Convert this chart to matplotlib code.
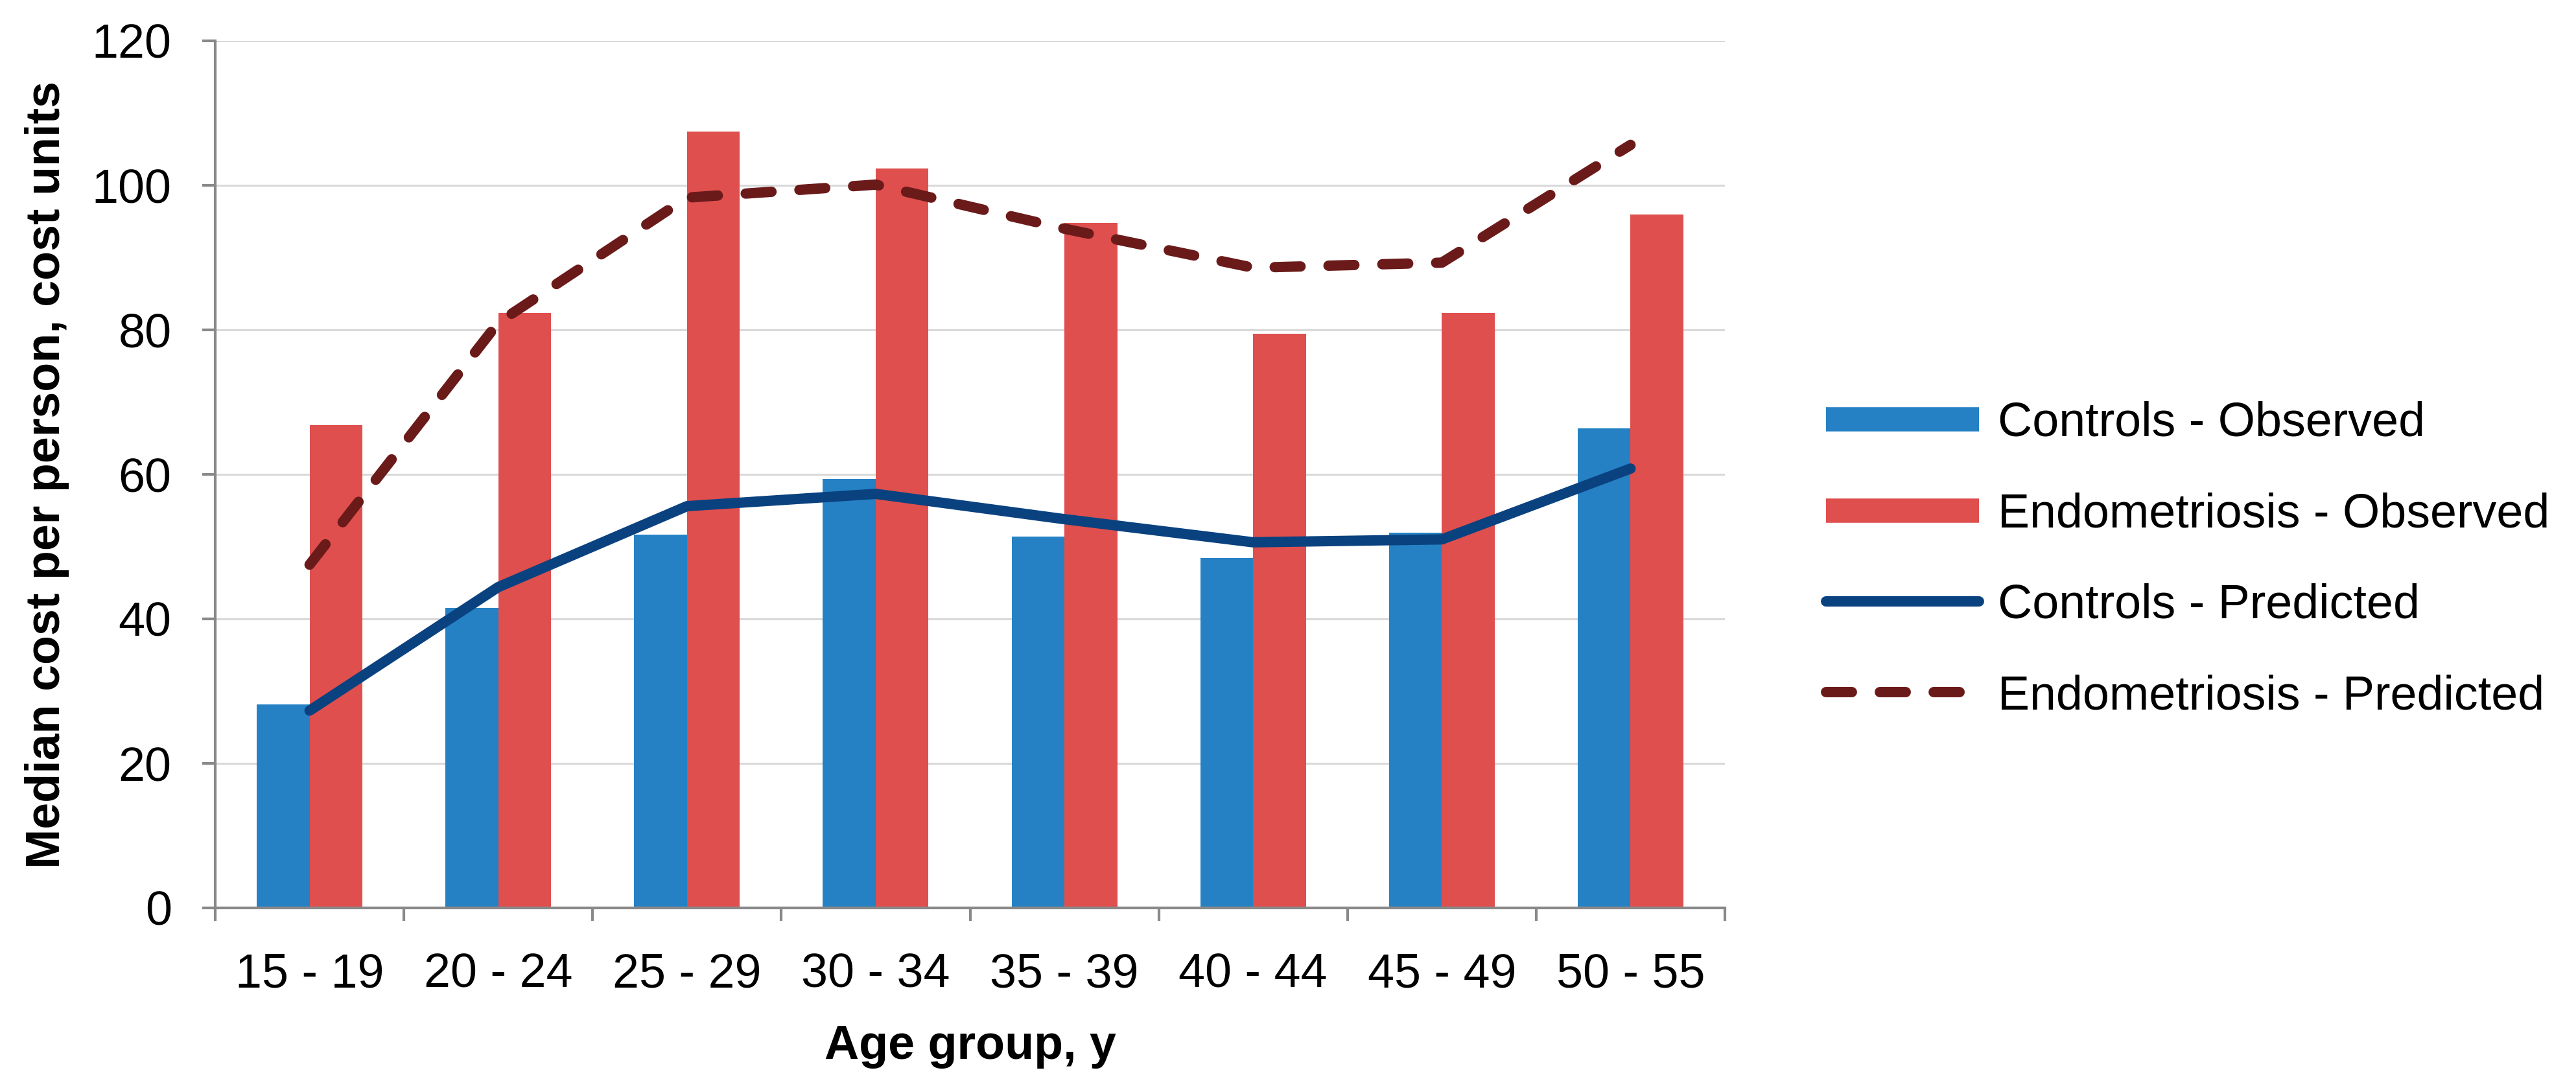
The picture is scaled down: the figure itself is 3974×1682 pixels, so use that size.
import matplotlib
matplotlib.use("Agg")
import matplotlib.pyplot as plt
from matplotlib.lines import Line2D
import numpy as np

# data
age_groups = ["15 - 19", "20 - 24", "25 - 29", "30 - 34", "35 - 39", "40 - 44", "45 - 49", "50 - 55"]
controls_observed = [28.2, 41.5, 51.7, 59.4, 51.4, 48.4, 51.9, 66.4]
endo_observed = [66.8, 82.3, 107.4, 102.3, 94.8, 79.5, 82.3, 96.0]
controls_predicted = [27.3, 44.4, 55.6, 57.3, 53.8, 50.6, 51.0, 60.8]
endo_predicted = [47.5, 81.0, 98.3, 100.1, 94.0, 88.6, 89.3, 105.6]

BLUE = "#2581C4"
RED = "#DE4F4E"
DARK_BLUE = "#0A4280"
DARK_RED = "#6B1A1A"
GRID = "#D9D9D9"
AXIS = "#898989"
FS = 53

plt.rcParams["font.family"] = ["Liberation Sans", "DejaVu Sans"]

fig = plt.figure(figsize=(39.74, 16.82), dpi=100)
ax = fig.add_axes([332 / 3974, 1 - 1401 / 1682, (2661 - 332) / 3974, (1401 - 63) / 1682])

x = np.arange(len(age_groups))
w = 0.28
ax.bar(x - w / 2, controls_observed, width=w, color=BLUE, zorder=2)
ax.bar(x + w / 2, endo_observed, width=w, color=RED, zorder=2)

lw = 11.5
ax.plot(x, controls_predicted, color=DARK_BLUE, lw=lw, solid_capstyle="round",
        solid_joinstyle="round", zorder=3)
ax.plot(x, endo_predicted, color=DARK_RED, lw=lw, dashes=(2.5, 2.7),
        dash_capstyle="round", dash_joinstyle="round", zorder=3)

# axes styling (Excel look)
ax.set_xlim(-0.5, len(age_groups) - 0.5)
ax.set_ylim(0, 120)
ax.set_yticks(np.arange(0, 121, 20))
ax.yaxis.grid(True, color=GRID, lw=2.2, zorder=0)
ax.set_axisbelow(True)
for s in ["top", "right"]:
    ax.spines[s].set_visible(False)
for s in ["left", "bottom"]:
    ax.spines[s].set_color(AXIS)
    ax.spines[s].set_linewidth(3)

# category boundaries as tick marks, labels on centers
ax.set_xticks(np.arange(-0.5, len(age_groups), 1.0))
ax.set_xticklabels([])
ax.set_xticks(x, minor=True)
ax.set_xticklabels(age_groups, minor=True)
ax.tick_params(axis="x", which="major", length=14.5, width=3, color=AXIS)
ax.tick_params(axis="x", which="minor", length=0, pad=49, labelsize=FS)
ax.tick_params(axis="y", length=14.5, width=3, color=AXIS, pad=34, labelsize=FS)

ax.set_xlabel("Age group, y", fontsize=FS, fontweight="bold", labelpad=30)
ax.set_ylabel("Median cost per person, cost units", fontsize=FS, fontweight="bold", labelpad=25)

handles = [
    Line2D([], [], color=BLUE, lw=27, solid_capstyle="butt"),
    Line2D([], [], color=RED, lw=27, solid_capstyle="butt"),
    Line2D([], [], color=DARK_BLUE, lw=lw, solid_capstyle="round"),
    Line2D([], [], color=DARK_RED, lw=lw, dashes=(2.5, 2.7), dash_capstyle="round"),
]
labels = ["Controls - Observed", "Endometriosis - Observed",
          "Controls - Predicted", "Endometriosis - Predicted"]
fig.legend(handles, labels, loc="center left", bbox_to_anchor=(2817 / 3974, 1 - 864 / 1682),
           bbox_transform=fig.transFigure, frameon=False, fontsize=FS,
           handlelength=3.2, handletextpad=0.4, labelspacing=0.97,
           borderpad=0, borderaxespad=0)

fig.savefig("out.png", dpi=100)
